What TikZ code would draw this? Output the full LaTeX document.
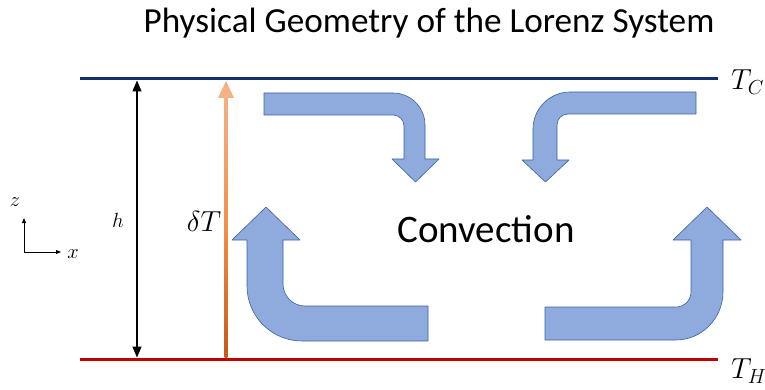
\RequirePackage{fix-cm}
\documentclass[tikz,border=0pt]{standalone}
\usepackage{fontspec}
\setmainfont{Carlito}
\usetikzlibrary{arrows.meta}

\definecolor{plateblue}{HTML}{13306B}
\definecolor{platered}{HTML}{C00000}
\definecolor{flowfill}{HTML}{8FAADC}
\definecolor{flowedge}{HTML}{3A62A8}
\definecolor{warmtop}{HTML}{F4B183}
\definecolor{warmmid}{HTML}{F0904A}
\definecolor{warmbot}{HTML}{C55A11}

\tikzset{
  plate/.style={line width=3pt},
  flow/.style={fill=flowfill, draw=flowedge, line width=0.6pt, line join=round},
  gap/.style={line width=1.4pt, {Triangle[width=9pt,length=11pt]}-{Triangle[width=9pt,length=11pt]}},
  axis/.style={line width=1pt, -{Triangle[width=4pt,length=5pt]}},
  mathlbl/.style={inner sep=0pt, font=\fontsize{29}{32}\selectfont},
  smalllbl/.style={inner sep=0pt, font=\fontsize{20.5}{24}\selectfont},
}

\begin{document}
\begin{tikzpicture}[x=1pt, y=-1pt]
\useasboundingbox (0,0) rectangle (765,390);

% title
\node[anchor=base, inner sep=0pt, font=\fontsize{35.2}{40}\selectfont] (title) at (429,33) {Physical Geometry of the Lorenz System};

% cold and hot plates
\coordinate (coldL) at (80,79);
\coordinate (coldR) at (718,79);
\coordinate (hotL) at (80,359);
\coordinate (hotR) at (718,359);
\draw[plate, plateblue] (coldL) -- (coldR);
\draw[plate, platered] (hotL) -- (hotR);
\node[mathlbl, anchor=west] (tc) at (731,82) {$T_C$};
\node[mathlbl, anchor=west] (th) at (731,371) {$T_H$};

% layer depth h
\coordinate (hTop) at (137,80.5);
\coordinate (hBot) at (137,357.5);
\draw[gap] (hBot) -- (hTop);
\node[smalllbl] (h) at (118,220) {$h$};

% temperature difference arrow, shaded from hot to cold
\coordinate (dTbot) at (226,357.5);
\coordinate (dTtop) at (226,81);
\shade[top color=warmtop, bottom color=warmbot, middle color=warmmid]
  (224.7,357.5) rectangle (227.3,96);
\fill[warmtop] (dTtop) -- (234,98) -- (218,98) -- cycle;
\node[mathlbl] (dT) at (204,221) {$\delta T$};

% coordinate axes
\coordinate (origin) at (24,252);
\coordinate (zend) at (24,218);
\coordinate (xend) at (61,252);
\draw[axis] (origin) -- (zend);
\draw[axis] (origin) -- (xend);
\node[smalllbl] (zl) at (15,202) {$z$};
\node[smalllbl] (xl) at (73,254) {$x$};

% convection cells: bent arrows
% top left: rightwards, then down
\draw[flow] (264,93) -- (393,93) .. controls (410.7,93) and (425,107.3) .. (425,125)
  -- (425,159) -- (439,159) -- (415.5,182) -- (392,159) -- (404,159) -- (404,126)
  .. controls (404,119.9) and (399.1,115) .. (393,115) -- (264,115) -- cycle;

% top right: leftwards, then down
\draw[flow] (696,92) -- (570,92) .. controls (549.6,92) and (533,108.6) .. (533,129)
  -- (533,160) -- (522,160) -- (545.5,182) -- (569,160) -- (557,160) -- (557,125)
  .. controls (557,118.9) and (561.9,114) .. (568,114) -- (696,114) -- cycle;

% bottom left: leftwards, then up
\draw[flow] (428,306) -- (305,306) .. controls (292.9,306) and (283,296.1) .. (283,284)
  -- (283,240) -- (300,240) -- (266,207) -- (232,240) -- (247,240) -- (247,286)
  .. controls (247,316.4) and (271.6,341) .. (302,341) -- (428,341) -- cycle;

% bottom right: rightwards, then up
\draw[flow] (545,307) -- (676,307) .. controls (684.3,307) and (691,300.3) .. (691,292)
  -- (691,240) -- (673,240) -- (707,207) -- (741,240) -- (723,240) -- (723,292)
  .. controls (723,318) and (702,340) .. (676,340) -- (545,340) -- cycle;

\node[anchor=base, inner sep=0pt, font=\fontsize{39}{44}\selectfont] (conv) at (486,242) {Convection};
\end{tikzpicture}
\end{document}
